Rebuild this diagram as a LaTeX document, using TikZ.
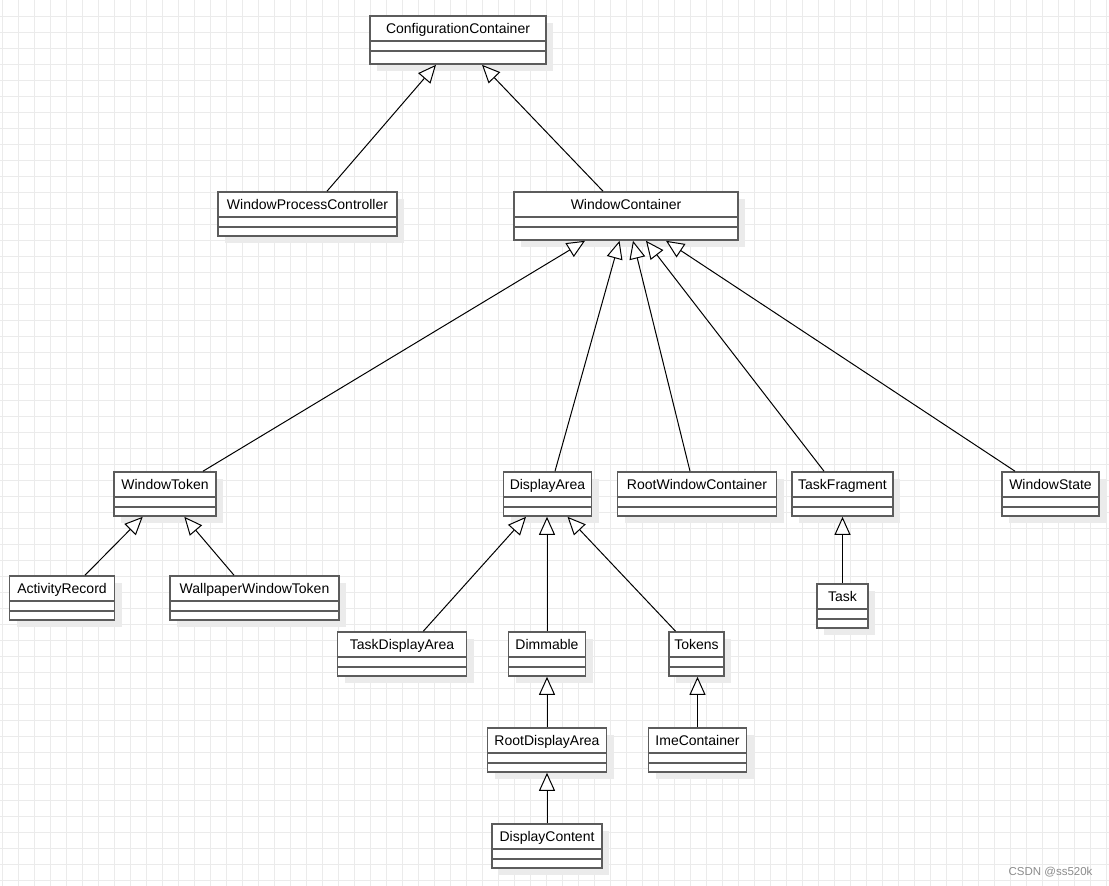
\documentclass[tikz,border=0pt]{standalone}
\usepackage{fontspec}
\setmainfont{Liberation Sans}
\usepackage{tikz}
\usetikzlibrary{arrows.meta, shadows}

\begin{document}
\begin{tikzpicture}[
		x=1pt, y=-1pt,
		gridline/.style={draw=gridcol, line width=1pt},
		cls/.style={
			rectangle, draw=boxcol, line width=1.6pt, fill=white,
			minimum width=#1, inner xsep=2pt, inner ysep=0pt,
			font=\fontsize{14}{16}\selectfont, text=black,
			text height=17.5pt, text depth=26.5pt,
			drop shadow={shadow xshift=7pt, shadow yshift=-7pt, fill=shadowcol, opacity=1},
			path picture={
				\draw[boxcol, line width=1.6pt]
				([yshift=-25pt]path picture bounding box.north west) -- ([yshift=-25pt]path picture bounding box.north east)
				([yshift=-35pt]path picture bounding box.north west) -- ([yshift=-35pt]path picture bounding box.north east);
			}
		},
		tall/.style={text depth=30.5pt},
		inherit/.style={
			draw=black, line width=1pt,
			-{Triangle[open, length=18pt, width=16pt, fill=white]}
		}
		]
		
		\definecolor{gridcol}{HTML}{EBEBEB}
		\definecolor{boxcol}{HTML}{5C5C5C}
		\definecolor{shadowcol}{HTML}{EBEBEB}
		
		\useasboundingbox[fill=white] (0,0) rectangle (1109,886);
		
		% background grid
		\foreach \gx in {2,18,...,1106} \draw[gridline] (\gx,0) -- (\gx,886);
		\foreach \gy in {16,32,...,880} \draw[gridline] (0,\gy) -- (1109,\gy);
		
		% classes
		\node[cls=176, tall] (config)    at (458,   40)  {ConfigurationContainer};
		\node[cls=179]       (procctrl)  at (307.5, 214) {WindowProcessController};
		\node[cls=224, tall] (wincont)   at (626,   216) {WindowContainer};
		
		\node[cls=102] (wintoken)  at (165,    494) {WindowToken};
		\node[cls=88]  (disparea)  at (547.5,  494) {DisplayArea};
		\node[cls=159] (rootwin)   at (697,    494) {RootWindowContainer};
		\node[cls=101] (taskfrag)  at (842.5,  494) {TaskFragment};
		\node[cls=97]  (winstate)  at (1050.5, 494) {WindowState};
		
		\node[cls=105] (activity)  at (62,     598) {ActivityRecord};
		\node[cls=169] (wallpaper) at (254.5,  598) {WallpaperWindowToken};
		\node[cls=51]  (task)      at (842.5,  606) {Task};
		
		\node[cls=129] (taskdisp)  at (402,    654) {TaskDisplayArea};
		\node[cls=77]  (dimmable)  at (547,    654) {Dimmable};
		\node[cls=55]  (tokens)    at (696.5,  654) {Tokens};
		
		\node[cls=119] (rootdisp)  at (547,    750) {RootDisplayArea};
		\node[cls=98]  (imecont)   at (697.5,  750) {ImeContainer};
		\node[cls=110] (dispcont)  at (547,    846) {DisplayContent};
		
		% generalisations
		\draw[inherit] ([xshift=19.5pt]procctrl.north) -- ([xshift=-22pt]config.south);
		\draw[inherit] ([xshift=-23pt]wincont.north)   -- ([xshift=24pt]config.south);
		
		\draw[inherit] ([xshift=38pt]wintoken.north)   -- ([xshift=-41pt]wincont.south);
		\draw[inherit] ([xshift=7.5pt]disparea.north)  -- ([xshift=-6.5pt]wincont.south);
		\draw[inherit] ([xshift=-7pt]rootwin.north)    -- ([xshift=7pt]wincont.south);
		\draw[inherit] ([xshift=-18.5pt]taskfrag.north) -- ([xshift=20pt]wincont.south);
		\draw[inherit] ([xshift=-35.5pt]winstate.north) -- ([xshift=40pt]wincont.south);
		
		\draw[inherit] ([xshift=23pt]activity.north)   -- ([xshift=-22.3pt]wintoken.south);
		\draw[inherit] ([xshift=-20.5pt]wallpaper.north) -- ([xshift=19.3pt]wintoken.south);
		\draw[inherit] (task.north) -- (taskfrag.south);
		
		\draw[inherit] ([xshift=21.3pt]taskdisp.north) -- ([xshift=-21.5pt]disparea.south);
		\draw[inherit] (dimmable.north) -- (dimmable.north |- disparea.south);
		\draw[inherit] ([xshift=-21pt]tokens.north)    -- ([xshift=20pt]disparea.south);
		
		\draw[inherit] (rootdisp.north) -- (dimmable.south);
		\draw[inherit] (imecont.north)  -- (imecont.north |- tokens.south);
		\draw[inherit] (dispcont.north) -- (rootdisp.south);
		
		\node[font=\fontsize{11.5}{13}\selectfont, text=black!45, anchor=east] (mark) at (1096,872.5) {CSDN @ss520k};
		
	\end{tikzpicture}
\end{document}
